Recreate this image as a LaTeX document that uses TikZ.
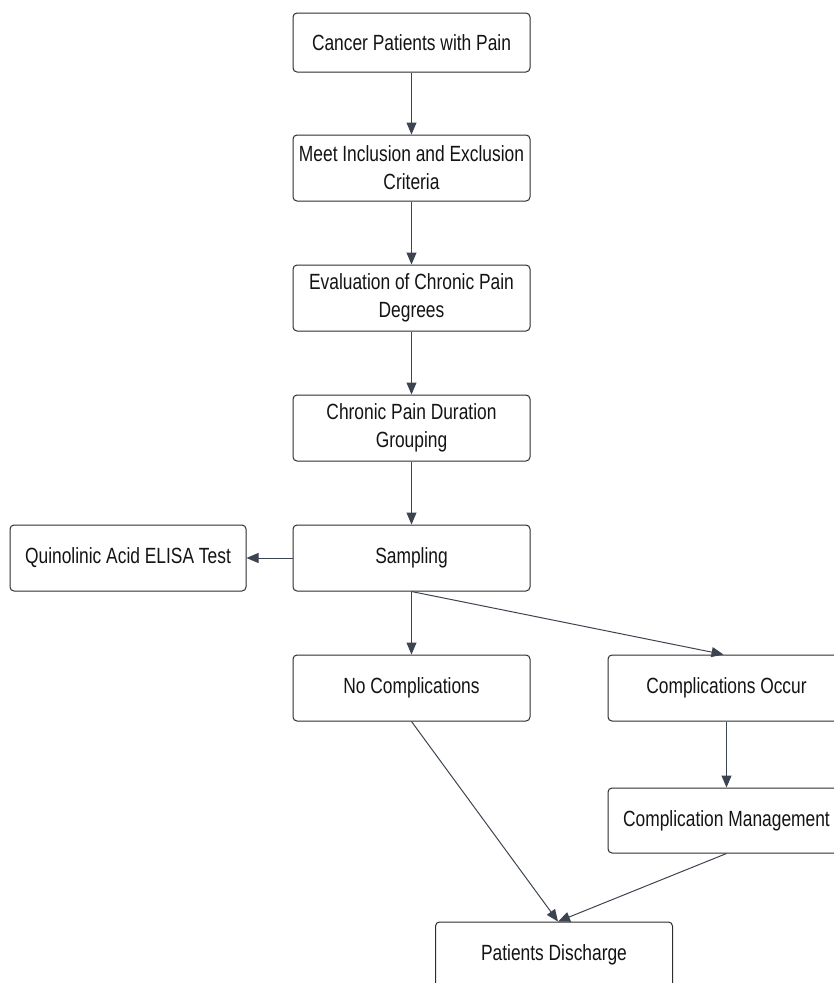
\documentclass[tikz,border=0pt]{standalone}
\usepackage{fontspec}
\setmainfont[FakeStretch=0.79]{Liberation Sans}
\usetikzlibrary{arrows.meta}
\definecolor{linec}{HTML}{3D4451}
\definecolor{boxc}{HTML}{2E2E2E}
\definecolor{txtc}{HTML}{141414}
\tikzset{
  box/.style={draw=boxc, line width=1pt, rounded corners=4pt, fill=white,
    minimum width=237pt, minimum height=66pt, inner sep=2pt,
    align=center, text=txtc, font=\fontsize{22pt}{28pt}\selectfont},
  conn/.style={draw=linec, line width=1pt, -{Triangle[length=12pt,width=10pt]}}
}
\begin{document}
\begin{tikzpicture}[x=1pt,y=-1pt]
\useasboundingbox (0,0) rectangle (834,983);
\clip (0,0) rectangle (834,983);
\node[box, minimum height=59pt] (n1) at (411.5,42.5) {Cancer Patients with Pain};
\node[box] (n2) at (411.5,168) {Meet Inclusion and Exclusion\\Criteria};
\node[box] (n3) at (411.5,298) {Evaluation of Chronic Pain\\Degrees};
\node[box] (n4) at (411.5,428) {Chronic Pain Duration\\Grouping};
\node[box] (n5) at (411.5,558) {Sampling};
\node[box, minimum width=236pt] (q) at (128,558) {Quinolinic Acid ELISA Test};
\node[box] (nc) at (411.5,688) {No Complications};
\node[box] (co) at (726.5,688) {Complications Occur};
\node[box, minimum height=65pt] (cm) at (726.5,820.5) {Complication Management};
\node[box] (pd) at (554,955) {Patients Discharge};
\coordinate (pdin) at ([xshift=4pt]pd.north);
\draw[conn] (n1) -- (n2);
\draw[conn] (n2) -- (n3);
\draw[conn] (n3) -- (n4);
\draw[conn] (n4) -- (n5);
\draw[conn] (n5.west) -- (q.east);
\draw[conn] (n5.south) -- (nc.north);
\draw[conn] (n5.south) -- ([xshift=-3pt]co.north);
\draw[conn] (co) -- (cm);
\draw[conn] (nc.south) -- (pdin);
\draw[conn] (cm.south) -- (pdin);
\end{tikzpicture}
\end{document}
